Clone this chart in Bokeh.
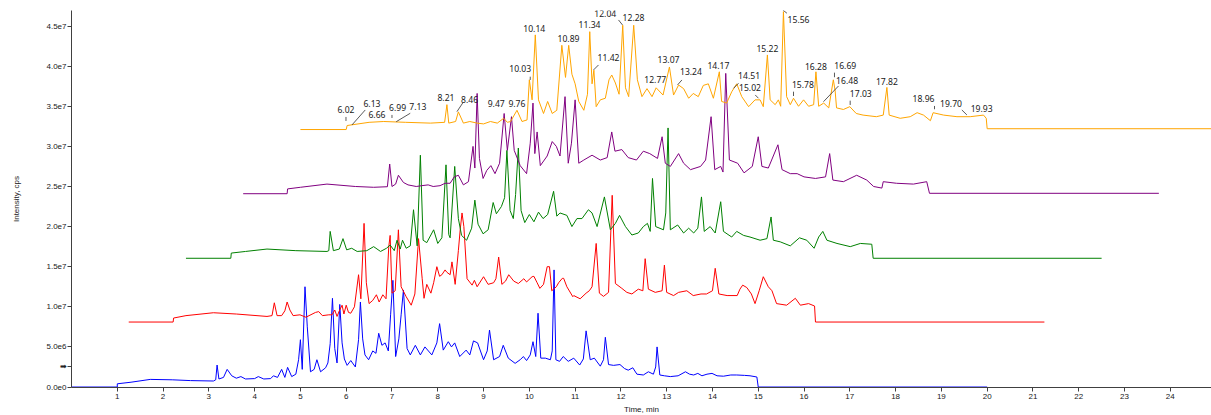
import numpy as np
from bokeh.plotting import figure
from bokeh.models import FixedTicker, CustomJSTickFormatter, Range1d, ColumnDataSource
from bokeh.core.properties import value
from bokeh.embed import file_html
from bokeh.resources import INLINE

# ---------------- DATA (time in min, intensity in millions of cps, as displayed) -------------
blue_t = [0.0, 1.0, 1.0, 1.3, 1.72, 2.2, 2.6, 3.1, 3.15, 3.18, 3.22, 3.32, 3.40, 3.50, 3.6, 3.7, 3.8, 4.0,
          4.08, 4.2, 4.35, 4.41, 4.5, 4.59, 4.66, 4.72, 4.81, 4.9, 4.96, 5.0, 5.04, 5.10, 5.15, 5.22, 5.30,
          5.36, 5.44, 5.55, 5.60, 5.65, 5.70, 5.75, 5.80, 5.86, 5.91, 5.96, 6.02, 6.10, 6.2, 6.27, 6.31,
          6.36, 6.41, 6.49, 6.58, 6.65, 6.71, 6.78, 6.85, 6.92, 6.97, 7.02, 7.08, 7.15, 7.20, 7.25, 7.33,
          7.40, 7.51, 7.62, 7.72, 7.87, 7.98, 8.04, 8.12, 8.23, 8.30, 8.37, 8.48, 8.62, 8.70, 8.78, 8.87,
          9.0, 9.08, 9.13, 9.22, 9.35, 9.43, 9.54, 9.69, 9.80, 9.87, 9.94, 10.02, 10.08, 10.14, 10.19,
          10.25, 10.35, 10.46, 10.50, 10.54, 10.58, 10.66, 10.74, 10.85, 10.97, 11.10, 11.18, 11.24, 11.33,
          11.42, 11.55, 11.62, 11.66, 11.73, 11.84, 11.98, 12.08, 12.16, 12.26, 12.35, 12.49, 12.60, 12.71,
          12.76, 12.79, 12.85, 12.95, 13.08, 13.25, 13.41, 13.50, 13.59, 13.68, 13.77, 13.88, 13.99, 14.10,
          14.24, 14.40, 14.53, 14.70, 14.82, 14.97, 15.0, 20.0]
blue_i = [0, 0, 0.4, 0.6, 0.95, 0.9, 0.8, 0.75, 0.9, 2.74, 1.0, 1.2, 2.2, 1.4, 1.1, 1.3, 1.0, 1.05,
          1.3, 1.0, 1.05, 1.4, 1.2, 2.2, 1.2, 2.45, 1.3, 1.6, 3.4, 5.9, 2.2, 12.5, 7.5, 1.9, 2.2,
          3.4, 1.9, 2.4, 3.0, 5.4, 11.06, 4.8, 3.0, 10.3, 5.5, 3.5, 2.7, 3.3, 2.5, 5.9, 10.6,
          6.0, 4.0, 3.4, 4.5, 4.2, 6.7, 5.2, 5.5, 4.5, 9.0, 13.3, 3.8, 6.0, 9.0, 12.1, 4.8,
          4.0, 5.2, 4.0, 5.0, 4.0, 5.5, 7.9, 4.6, 5.65, 5.0, 5.5, 3.8, 4.6, 4.0, 5.75, 5.5,
          3.4, 4.5, 7.1, 3.4, 3.8, 5.2, 3.6, 2.95, 3.4, 3.8, 3.3, 4.0, 5.65, 3.8, 9.2,
          3.6, 3.6, 3.4, 4.5, 14.6, 3.4, 3.2, 3.8, 3.2, 3.6, 2.74, 3.5, 7.0, 3.4,
          3.6, 2.6, 3.4, 6.2, 2.8, 2.7, 2.8, 2.3, 2.1, 2.4, 1.6, 1.5, 1.9, 1.6,
          2.5, 5.0, 1.5, 1.4, 1.3, 1.4, 1.9, 1.6, 1.5, 1.7, 1.4, 1.6, 1.7, 1.4,
          1.35, 1.5, 1.5, 1.45, 1.4, 1.25, 0, 0]

red_t = [1.25, 2.22, 2.23, 2.5, 3.1, 3.6, 4.27, 4.38, 4.43, 4.49, 4.59, 4.66, 4.71, 4.77, 4.84, 4.99, 5.12,
         5.33, 5.40, 5.48, 5.62, 5.69, 5.75, 5.80, 5.85, 5.91, 5.95, 6.0, 6.05, 6.1, 6.18, 6.27, 6.32, 6.39,
         6.44, 6.50, 6.58, 6.66, 6.72, 6.80, 6.87, 6.93, 6.96, 7.0, 7.07, 7.14, 7.20, 7.31, 7.42, 7.50, 7.58,
         7.66, 7.70, 7.76, 7.85, 7.91, 7.98, 8.04, 8.09, 8.16, 8.20, 8.27, 8.31, 8.38, 8.45, 8.49, 8.53, 8.57,
         8.64, 8.75, 8.80, 8.86, 9.0, 9.1, 9.22, 9.27, 9.33, 9.40, 9.48, 9.55, 9.66, 9.76, 9.88, 9.94, 10.06,
         10.1, 10.17, 10.23, 10.31, 10.39, 10.44, 10.49, 10.59, 10.64, 10.72, 10.75, 10.82, 10.95, 10.97,
         11.11, 11.24, 11.31, 11.37, 11.46, 11.53, 11.62, 11.73, 11.81, 11.88, 12.02, 12.13, 12.24, 12.38,
         12.48, 12.53, 12.60, 12.75, 12.90, 12.95, 13.0, 13.15, 13.26, 13.44, 13.58, 13.75, 13.87, 14.0,
         14.06, 14.14, 14.32, 14.54, 14.60, 14.66, 14.75, 14.85, 14.93, 15.02, 15.11, 15.22, 15.30, 15.40,
         15.62, 15.81, 15.92, 16.10, 16.23, 16.25, 21.25]
red_i = [8.1, 8.1, 8.6, 8.9, 9.26, 9.1, 8.8, 8.9, 10.5, 8.9, 8.9, 9.5, 10.6, 9.6, 8.9, 9.0, 8.7,
         9.3, 9.4, 8.9, 9.0, 9.0, 9.6, 8.8, 9.5, 10.2, 9.1, 10.2, 9.3, 9.2, 10.0, 14.0, 11.0, 20.4,
         13.0, 10.4, 10.8, 11.5, 10.6, 11.5, 11.0, 17.5, 18.9, 11.7, 12.0, 19.6, 12.5, 11.26, 10.2, 11.6, 18.5,
         13.5, 11.06, 12.8, 11.7, 13.0, 15.0, 13.8, 14.0, 14.6, 14.3, 14.0, 15.6, 12.8, 17.0, 19.6, 21.7, 20.0,
         13.5, 12.7, 13.3, 12.5, 13.75, 12.8, 13.0, 13.5, 16.2, 12.8, 13.2, 14.0, 13.2, 12.9, 13.5, 13.1, 13.75,
         13.8, 13.0, 12.3, 12.8, 15.0, 15.0, 12.0, 12.5, 13.0, 13.55, 13.55, 12.5, 11.26, 11.4,
         11.0, 11.7, 12.0, 12.5, 17.9, 11.7, 11.3, 11.8, 23.9, 12.9, 12.3, 11.8, 11.6, 12.2,
         12.0, 16.0, 12.2, 11.8, 12.0, 15.2, 11.8, 11.4, 11.8, 12.0, 11.4, 11.6, 11.6, 12.0,
         14.8, 11.6, 11.4, 11.4, 12.2, 12.7, 12.4, 11.6, 10.4, 12.0, 13.75, 12.5, 12.0, 10.4,
         10.2, 11.06, 10.2, 10.4, 10.1, 8.1, 8.1]

green_t = [2.5, 3.48, 3.49, 3.8, 4.27, 4.9, 5.58, 5.62, 5.65, 5.72, 5.85, 5.93, 6.01, 6.12, 6.24, 6.45, 6.60,
           6.75, 6.88, 6.96, 7.05, 7.11, 7.18, 7.23, 7.31, 7.40, 7.47, 7.55, 7.62, 7.68, 7.76, 7.91, 8.0, 8.09,
           8.18, 8.24, 8.27, 8.37, 8.45, 8.52, 8.63, 8.74, 8.81, 8.88, 8.99, 9.1, 9.21, 9.28, 9.39, 9.46, 9.51,
           9.58, 9.65, 9.70, 9.76, 9.82, 9.90, 10.0, 10.10, 10.20, 10.30, 10.40, 10.53, 10.60, 10.67, 10.82,
           10.93, 11.04, 11.15, 11.29, 11.37, 11.48, 11.64, 11.77, 11.88, 11.97, 12.1, 12.24, 12.38, 12.49,
           12.58, 12.64, 12.69, 12.76, 12.93, 12.98, 13.03, 13.08, 13.24, 13.37, 13.48, 13.59, 13.68, 13.76,
           13.82, 13.95, 14.06, 14.18, 14.24, 14.42, 14.53, 14.68, 14.82, 15.04, 15.19, 15.28, 15.33, 15.48,
           15.70, 15.90, 16.06, 16.22, 16.32, 16.41, 16.50, 16.72, 17.01, 17.23, 17.48, 17.51, 22.5]
green_i = [16.05, 16.05, 16.7, 16.9, 17.2, 17.0, 16.9, 17.0, 19.4, 17.0, 17.2, 18.5, 17.1, 17.3, 16.9, 17.0, 17.5,
           16.9, 17.3, 17.7, 17.0, 18.3, 17.2, 18.3, 17.3, 17.6, 22.1, 17.6, 28.9, 18.3, 18.0, 19.6, 17.9, 18.6,
           27.7, 19.0, 18.6, 27.5, 21.0, 18.9, 18.3, 19.8, 23.3, 20.3, 19.1, 19.6, 23.0, 21.6, 22.5, 23.6, 29.5,
           22.0, 21.0, 24.0, 29.8, 22.0, 20.5, 21.5, 20.6, 21.8, 21.0, 21.5, 24.4, 21.3, 21.7, 21.4,
           20.0, 21.0, 21.0, 22.1, 21.7, 20.0, 23.7, 19.6, 20.4, 21.4, 20.0, 18.95, 19.2, 20.0,
           20.4, 19.4, 26.0, 20.0, 19.6, 21.7, 32.3, 19.6, 20.2, 19.2, 19.8, 19.2, 19.8, 23.7,
           19.4, 20.0, 19.2, 23.1, 19.4, 18.7, 19.4, 18.9, 18.7, 18.3, 18.5, 21.2, 18.3, 18.1,
           17.6, 18.6, 18.3, 17.3, 18.7, 19.4, 18.3, 17.9, 17.5, 17.9, 17.8, 16.05, 16.05]

purple_t = [3.75, 4.71, 4.72, 5.0, 5.58, 6.2, 6.6, 6.90, 6.95, 7.0, 7.08, 7.14, 7.25, 7.35, 7.53, 7.65, 7.79,
            7.9, 8.05, 8.16, 8.27, 8.36, 8.45, 8.56, 8.67, 8.77, 8.81, 8.86, 8.91, 8.99, 9.07, 9.16, 9.25, 9.35,
            9.45, 9.52, 9.61, 9.67, 9.80, 9.94, 10.02, 10.08, 10.12, 10.17, 10.24, 10.39, 10.50, 10.59, 10.67,
            10.78, 10.85, 10.92, 11.0, 11.08, 11.19, 11.37, 11.55, 11.70, 11.80, 11.87, 12.02, 12.16, 12.34,
            12.49, 12.63, 12.80, 12.90, 12.97, 13.08, 13.26, 13.37, 13.52, 13.74, 13.85, 13.97, 14.05, 14.18,
            14.23, 14.29, 14.37, 14.55, 14.69, 14.87, 15.0, 15.08, 15.22, 15.43, 15.52, 15.70, 15.85, 16.0,
            16.25, 16.47, 16.56, 16.63, 16.86, 17.15, 17.37, 17.52, 17.70, 17.73, 18.02, 18.39, 18.68, 18.74,
            23.75]
purple_i = [24.1, 24.1, 24.7, 24.9, 25.3, 25.0, 24.9, 24.97, 27.8, 25.0, 25.3, 26.4, 25.5, 25.2, 25.0, 25.1, 25.2,
            25.0, 25.1, 25.4, 25.4, 26.2, 26.4, 25.2, 25.6, 30.0, 27.3, 36.6, 28.5, 26.0, 27.0, 27.6, 26.6, 27.9,
            34.1, 29.5, 33.7, 29.5, 27.6, 26.6, 30.4, 35.4, 29.1, 31.8, 27.6, 28.8, 30.6, 30.0, 28.8,
            36.2, 27.9, 30.4, 35.8, 27.9, 28.3, 28.9, 28.3, 28.6, 31.8, 29.4, 29.6, 28.6, 28.3,
            29.4, 29.1, 28.5, 31.2, 27.9, 27.5, 29.1, 27.9, 27.1, 27.5, 28.3, 33.7, 27.1, 27.5,
            26.8, 39.1, 28.3, 27.9, 26.7, 27.5, 31.2, 27.5, 27.3, 30.2, 27.1, 26.6, 26.6, 26.2,
            26.0, 26.2, 29.1, 25.8, 25.6, 26.4, 25.8, 25.0, 24.8, 25.6, 25.4, 25.3, 25.6, 24.15,
            24.15]

orange_t = [5.0, 6.0, 6.02, 6.5, 6.82, 7.3, 7.84, 8.15, 8.20, 8.24, 8.39, 8.45, 8.56, 8.70, 8.86, 9.0, 9.15,
            9.30, 9.44, 9.52, 9.59, 9.73, 9.84, 9.95, 10.0, 10.06, 10.13, 10.20, 10.31, 10.40, 10.50, 10.60,
            10.71, 10.79, 10.86, 10.93, 11.0, 11.08, 11.19, 11.27, 11.32, 11.37, 11.41, 11.46, 11.55, 11.66,
            11.74, 11.80, 11.88, 11.96, 12.04, 12.10, 12.17, 12.28, 12.36, 12.46, 12.57, 12.68, 12.77, 12.92,
            13.06, 13.15, 13.26, 13.37, 13.48, 13.58, 13.69, 13.80, 13.91, 14.02, 14.15, 14.20, 14.31, 14.42,
            14.53, 14.64, 14.79, 14.93, 15.04, 15.11, 15.20, 15.26, 15.37, 15.44, 15.49, 15.55, 15.62, 15.70,
            15.77, 15.88, 15.99, 16.10, 16.21, 16.26, 16.32, 16.43, 16.54, 16.64, 16.68, 16.71, 16.86, 17.0,
            17.14, 17.29, 17.58, 17.73, 17.81, 17.86, 18.10, 18.32, 18.47, 18.61, 18.76, 18.82, 19.05, 19.34,
            19.63, 19.92, 19.98, 20.0, 25.0]
orange_i = [32.1, 32.1, 32.6, 33.0, 33.1, 33.0, 32.9, 33.0, 35.2, 32.9, 33.1, 34.3, 32.9, 33.1, 32.9, 32.8, 33.1,
            32.9, 33.5, 33.0, 33.1, 34.5, 33.1, 33.3, 38.3, 35.8, 43.9, 35.8, 34.1, 35.6, 34.1, 34.5,
            42.6, 38.6, 42.6, 39.0, 37.8, 35.6, 34.5, 36.5, 44.3, 37.8, 39.5, 34.95, 35.8, 36.0,
            38.3, 38.9, 37.9, 36.5, 45.1, 37.3, 36.2, 45.1, 38.3, 36.2, 37.2, 36.2, 37.3, 36.4,
            39.9, 36.4, 37.65, 37.2, 36.0, 36.6, 36.2, 37.6, 37.8, 36.0, 39.3, 35.6, 35.4, 36.8,
            37.8, 36.2, 34.95, 35.8, 35.8, 34.95, 41.4, 35.8, 35.2, 35.8, 35.0, 46.8, 36.2, 35.2,
            36.0, 35.0, 35.8, 35.0, 35.2, 39.3, 35.0, 35.4, 34.8, 38.3, 36.9, 34.8, 34.6, 34.95,
            34.1, 33.9, 33.7, 33.9, 37.35, 33.9, 33.5, 33.7, 34.2, 33.9, 33.2, 34.2, 33.9, 33.7,
            33.7, 33.9, 33.5, 32.2, 32.2]

peak_labels = ["6.02", "6.13", "6.66", "6.99", "7.13", "8.21", "8.46", "9.47", "9.76", "10.03", "10.14",
               "10.89", "11.34", "11.42", "12.04", "12.28", "12.77", "13.07", "13.24", "14.17", "14.51",
               "15.02", "15.22", "15.56", "15.78", "16.28", "16.69", "16.48", "17.03", "17.82", "18.96",
               "19.70", "19.93"]

x_ticks = list(range(1, 25))
y_ticks = [0, 5e6, 1e7, 1.5e7, 2e7, 2.5e7, 3e7, 3.5e7, 4e7, 4.5e7]
start_marker = 2.5e6   # arrow marker on the intensity axis

# ---------------- LAYOUT of peak labels (placement, data units) ----------------
label_pos = [(5.995, 34.54), (6.563, 35.29), (6.672, 33.92), (7.122, 34.83), (7.565, 34.95), (8.179, 36.07),
             (8.694, 35.79), (9.277, 35.29), (9.729, 35.29), (9.801, 39.65), (10.107, 44.64), (10.856, 43.48),
             (11.315, 45.22), (11.730, 41.11), (11.658, 46.60), (12.276, 46.10), (12.750, 38.28), (13.04, 40.86),
             (13.53, 39.31), (14.13, 40.06), (14.80, 38.78), (14.82, 37.32), (15.20, 42.23), (15.88, 45.85),
             (15.975, 37.74), (16.26, 40.02), (16.90, 40.11), (16.94, 38.19), (17.24, 36.62), (17.81, 38.07),
             (18.61, 36.0), (19.21, 35.37), (19.88, 34.75)]
leaders = [(5.995, 33.67, 5.995, 33.17), (6.416, 34.54, 6.126, 32.67), (7.0, 33.92, 7.0, 33.54),
           (7.399, 34.13, 7.093, 33.08), (8.550, 35.45, 8.419, 34.33), (10.02, 38.69, 10.02, 38.28),
           (11.511, 40.15, 11.402, 39.53), (11.948, 45.76, 12.035, 45.14), (13.333, 38.28, 13.237, 37.66),
           (14.569, 37.87, 14.46, 37.24), (14.934, 36.41, 15.005, 36.0), (15.626, 46.6, 15.538, 47.0),
           (15.77, 36.82, 15.77, 36.28), (16.665, 39.19, 16.665, 38.62), (16.753, 37.53, 16.425, 35.57),
           (17.008, 35.70, 17.008, 35.16), (18.85, 35.04, 18.85, 34.63), (19.447, 34.54, 19.557, 33.92)]

M = 1e6

p = figure(frame_width=1140, frame_height=377, output_backend="svg", toolbar_location=None,
           x_range=Range1d(0, 24.9), y_range=Range1d(-0.06e6, 4.694e7),
           min_border_top=10, min_border_left=71, min_border_right=0, min_border_bottom=26)
p.background_fill_color = "white"
p.outline_line_color = None
p.grid.visible = False

traces = [(blue_t, blue_i, "#0000FF"), (red_t, red_i, "#FF0000"), (green_t, green_i, "#008000"),
          (purple_t, purple_i, "#800080"), (orange_t, orange_i, "#FFA500")]
for t, i, c in traces:
    p.line(x=t, y=[v * M for v in i], line_color=c, line_width=1)

src = ColumnDataSource(dict(x=[q[0] for q in label_pos], y=[q[1] * M for q in label_pos], text=peak_labels))
p.text(x="x", y="y", text="text", source=src, text_font=value("Noto Sans"), text_font_size="8.6px",
       text_align="center", text_baseline="middle", text_color="#202020")
p.segment(x0=[s[0] for s in leaders], y0=[s[1] * M for s in leaders],
          x1=[s[2] for s in leaders], y1=[s[3] * M for s in leaders], line_color="#303030", line_width=0.8)

for ax in (p.xaxis[0], p.yaxis[0]):
    ax.axis_line_color = "#404040"
    ax.major_tick_line_color = "#404040"
    ax.minor_tick_line_color = None
    ax.major_tick_out = 4
    ax.major_tick_in = 0
    ax.major_label_text_font = "Liberation Sans"
    ax.major_label_text_font_size = "8px"
    ax.major_label_text_color = "#202020"
    ax.axis_label_text_font = "Liberation Sans"
    ax.axis_label_text_font_size = "8px"
    ax.axis_label_text_font_style = "normal"
    ax.axis_label_text_color = "#202020"

p.xaxis.ticker = FixedTicker(ticks=x_ticks)
p.xaxis.axis_label = "Time, min"
p.xaxis.major_label_standoff = 2
p.xaxis.axis_label_standoff = 3

p.yaxis.ticker = FixedTicker(ticks=sorted(y_ticks + [start_marker]))
p.yaxis.formatter = CustomJSTickFormatter(
    args=dict(m=start_marker),
    code="if (Math.abs(tick - m) < 1) { return '\\u27A1'; } return tick.toExponential(1).replace('+', '');")
p.yaxis.axis_label = "Intensity, cps"
p.yaxis.major_label_standoff = 1
p.yaxis.axis_label_standoff = 22

open("out.html", "w").write(file_html(p, INLINE))
